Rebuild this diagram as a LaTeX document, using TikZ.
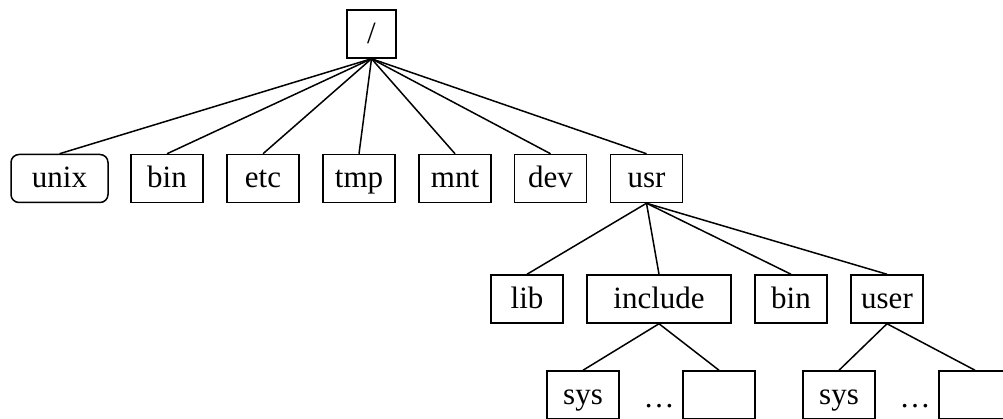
\documentclass[tikz,border=0pt]{standalone}
\usepackage{fontspec}
\setmainfont{Liberation Serif}
\begin{document}
\begin{tikzpicture}[x=1pt,y=-1pt,
  dirbox/.style={draw,line width=1.5pt,rectangle,minimum width=72pt,minimum height=48pt,inner sep=0pt,text height=24pt,text depth=5pt,font=\fontsize{31}{36}\selectfont},
  link/.style={line width=1.5pt}]
\useasboundingbox (0,0) rectangle (1003,419);
\node[dirbox,minimum width=49pt] (root) at (371.5,34) {/};
\node[dirbox,minimum width=97pt,rounded corners=8pt] (unix) at (59.5,178.5) {unix};
\node[dirbox] (bin) at (167,178.5) {bin};
\node[dirbox] (etc) at (263,178.5) {etc};
\node[dirbox] (tmp) at (359,178.5) {tmp};
\node[dirbox] (mnt) at (455,178.5) {mnt};
\node[dirbox] (dev) at (550.5,178.5) {dev};
\node[dirbox] (usr) at (646.5,178.5) {usr};
\node[dirbox] (lib) at (527,299) {lib};
\node[dirbox,minimum width=144pt] (include) at (659,299) {include};
\node[dirbox] (bin2) at (791,299) {bin};
\node[dirbox] (user) at (887,299) {user};
\node[dirbox] (sys1) at (583,395) {sys};
\node[font=\fontsize{31}{36}\selectfont,anchor=base,inner sep=0pt] (dots1) at (659,407) {\dots};
\node[dirbox] (empty1) at (719,395) {};
\node[dirbox] (sys2) at (839,395) {sys};
\node[font=\fontsize{31}{36}\selectfont,anchor=base,inner sep=0pt] (dots2) at (915,407) {\dots};
\node[dirbox] (empty2) at (975,395) {};
\foreach \n in {unix,bin,etc,tmp,mnt,dev,usr}
  \draw[link] (root.south) -- (\n.north);
\foreach \n in {lib,include,bin2,user}
  \draw[link] (usr.south) -- (\n.north);
\draw[link] (include.south) -- (sys1.north);
\draw[link] (include.south) -- (empty1.north);
\draw[link] (user.south) -- (sys2.north);
\draw[link] (user.south) -- (empty2.north);
\end{tikzpicture}
\end{document}
